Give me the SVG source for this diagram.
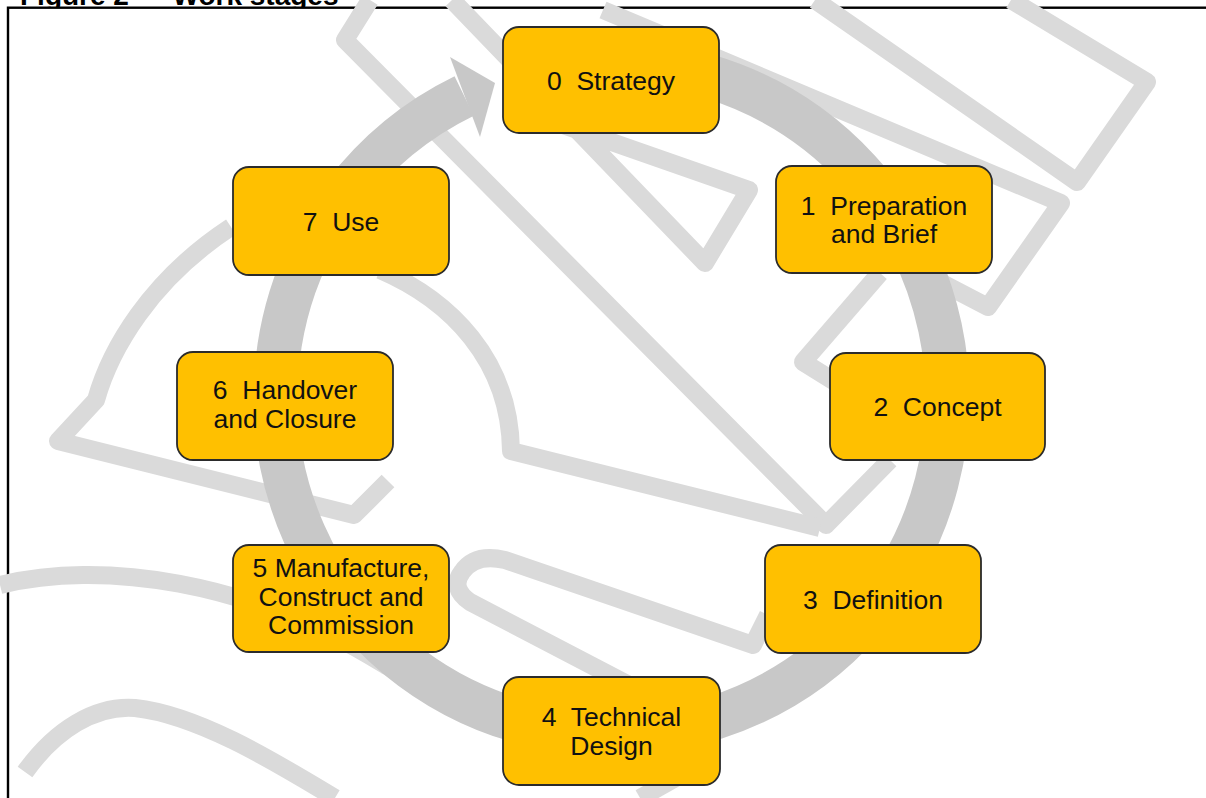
<svg xmlns="http://www.w3.org/2000/svg" width="1206" height="798" viewBox="0 0 1206 798">
  <style>
    .wm { fill: none; stroke: #dadada; stroke-width: 18; stroke-linejoin: round; stroke-linecap: butt; }
    .box { fill: #ffc000; stroke: #2b2b2b; stroke-width: 1.8; }
    .lbl { font-family: "Liberation Sans", Arial, sans-serif; font-size: 26.5px; fill: #111; text-anchor: middle; white-space: pre; }
  </style>
  <rect width="1206" height="798" fill="#ffffff"/>
  <!-- caption, clipped by the frame below -->
  <text x="20" y="5" font-family="Liberation Sans, Arial, sans-serif" font-weight="bold" font-size="28" fill="#000">Figure 2 — Work stages</text>
  <rect x="8" y="7.7" width="1300" height="900" fill="#ffffff" stroke="#000" stroke-width="2.4"/>

  <!-- background watermark outlines -->
  <g id="watermark">
    <path class="wm" d="M370,0 L345,40 L826,525 L890,460"/>
    <path class="wm" d="M380,270 C450,300 510,360 511,451 L820,528"/>
    <path class="wm" d="M452,0 L705,263 L749,190 L520,110"/>
    <path class="wm" d="M1011,0 L1147,82 L1077,182 L815,0"/>
    <path class="wm" d="M603,10 L1061,203 L988,307 L940,282"/>
    <path class="wm" d="M880,273 L803,362 L840,385"/>
    <path class="wm" d="M231,227 C150,280 110,350 96,400 L58,441 L354,515 L388,481"/>
    <path class="wm" d="M700,722 L470,602 Q450,588 462,572 Q475,553 505,560 L753,645 L768,615"/>
    <path class="wm" d="M0,585 C100,560 250,580 385,665 L603,765"/>
    <path class="wm" d="M25,772 C55,730 95,705 135,708 C200,715 280,765 335,798"/>
    <path class="wm" d="M690,770 L640,798"/>
  </g>

  <!-- cycle arrow -->
  <g id="connectors">
    <path d="M553.2,67.1 A336,336 0 1 1 464.2,96.0" fill="none" stroke="#c8c8c8" stroke-width="44"/>
    <polygon points="450,57 495,83 480,137" fill="#c8c8c8"/>
  </g>

  <g id="n0">
    <rect class="box" x="503" y="27" width="216" height="106" rx="16"/>
    <text class="lbl" x="611" y="89.5">0  Strategy</text>
  </g>
  <g id="n1">
    <rect class="box" x="776" y="166" width="216" height="107" rx="16"/>
    <text class="lbl" x="884" y="215">1  Preparation</text>
    <text class="lbl" x="884" y="243">and Brief</text>
  </g>
  <g id="n2">
    <rect class="box" x="830" y="353" width="215" height="107" rx="16"/>
    <text class="lbl" x="937.5" y="416">2  Concept</text>
  </g>
  <g id="n3">
    <rect class="box" x="765" y="545" width="216" height="108" rx="16"/>
    <text class="lbl" x="873" y="608.5">3  Definition</text>
  </g>
  <g id="n4">
    <rect class="box" x="503" y="677" width="217" height="108" rx="16"/>
    <text class="lbl" x="611.5" y="726">4  Technical</text>
    <text class="lbl" x="611.5" y="755">Design</text>
  </g>
  <g id="n5">
    <rect class="box" x="233" y="545" width="216" height="107" rx="16"/>
    <text class="lbl" x="341" y="577">5 Manufacture,</text>
    <text class="lbl" x="341" y="606">Construct and</text>
    <text class="lbl" x="341" y="634">Commission</text>
  </g>
  <g id="n6">
    <rect class="box" x="177" y="352" width="216" height="108" rx="16"/>
    <text class="lbl" x="285" y="399">6  Handover</text>
    <text class="lbl" x="285" y="428">and Closure</text>
  </g>
  <g id="n7">
    <rect class="box" x="233" y="167" width="216" height="108" rx="16"/>
    <text class="lbl" x="341" y="230.5">7  Use</text>
  </g>
</svg>
